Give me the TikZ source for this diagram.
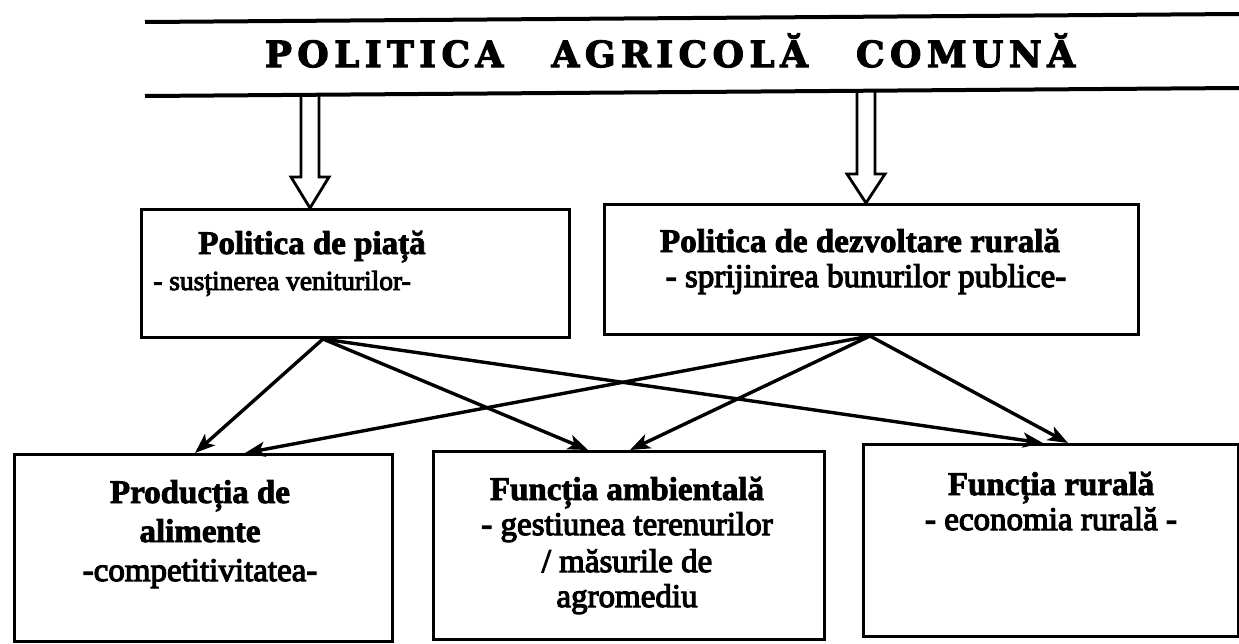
\documentclass[tikz,border=0pt]{standalone}
\usepackage{fontspec}
\setmainfont{Liberation Serif}
\newfontfamily\titlefont[LetterSpace=15,FakeBold=3]{DejaVu Serif Bold}
\newfontfamily\hfont[FakeBold=2.5]{Liberation Serif Bold}
\newfontfamily\sfont[FakeBold=3.5]{Liberation Serif}
\usetikzlibrary{arrows.meta,calc}
\begin{document}
\begin{tikzpicture}[x=1pt,y=-1pt,
  box/.style={draw, line width=3pt, inner sep=0pt, anchor=north west},
  head/.style={font=\hfont\fontsize{33}{36}\selectfont, anchor=base, inner sep=0pt},
  sub/.style={font=\sfont\fontsize{33}{36}\selectfont, anchor=base, inner sep=0pt},
  subsmall/.style={font=\sfont\fontsize{27.5}{32}\selectfont, anchor=base, inner sep=0pt},
  ttl/.style={font=\titlefont\fontsize{36}{40}\selectfont, anchor=base, inner sep=0pt},
  conn/.style={line width=3.4pt, -{Stealth[length=20pt,width=15pt,inset=5pt]}},
  dbl/.style={line width=2.8pt, line join=miter},
  rule/.style={line width=4pt}]
\useasboundingbox (0,0) rectangle (1239,643);
\fill[white] (0,0) rectangle (1239,643);

% title band
\coordinate (tl1) at (145,22);
\coordinate (tr1) at (1239,14);
\coordinate (tl2) at (145,96);
\coordinate (tr2) at (1239,88);
\draw[rule] (tl1) -- (tr1);
\draw[rule] (tl2) -- (tr2);
\node[ttl] (title) at (670,67) {POLITICA\hspace{48pt}AGRICOLĂ\hspace{48pt}COMUNĂ};

% middle boxes
\node[box, minimum width=428pt, minimum height=128pt] (ml) at (140,208) {};
\node[box, minimum width=534pt, minimum height=130pt] (mr) at (603,203) {};
\node[head] (ml1) at (312,254) {Politica de piață};
\node[subsmall] (ml2) at (282,290) {- susținerea veniturilor-};
\node[head] (mr1) at (860,252) {Politica de dezvoltare rurală};
\node[sub]  (mr2) at (866,287) {- sprijinirea bunurilor publice-};

% bottom boxes
\node[box, minimum width=378pt, minimum height=187pt] (b1) at (13,453) {};
\node[box, minimum width=391pt, minimum height=188pt] (b2) at (432,450) {};
\node[box, minimum width=375pt, minimum height=192pt] (b3) at (862,443) {};
\node[head] (b1a) at (200,503) {Producția de};
\node[head] (b1b) at (200,542) {alimente};
\node[sub]  (b1c) at (200,581) {-competitivitatea-};
\node[head] (b2a) at (627,500) {Funcția ambientală};
\node[sub]  (b2b) at (627,535) {- gestiunea terenurilor};
\node[sub]  (b2c) at (627,572) {/ măsurile de};
\node[sub]  (b2d) at (627,607) {agromediu};
\node[head] (b3a) at (1051,495) {Funcția rurală};
\node[sub]  (b3b) at (1051,530) {- economia rurală -};

% hollow double arrows from the title band
\coordinate (a1) at ($(ml.north west)+(170,0)$);
\coordinate (a2) at ($(mr.north west)+(263,0)$);
\draw[dbl] ($(a1)+(-9,-112)$) -- ($(a1)+(-9,-31)$) -- ($(a1)+(-19,-31)$) -- (a1)
  -- ($(a1)+(19,-31)$) -- ($(a1)+(9,-31)$) -- ($(a1)+(9,-112)$);
\draw[dbl] ($(a2)+(-9,-113)$) -- ($(a2)+(-9,-29)$) -- ($(a2)+(-19,-29)$) -- (a2)
  -- ($(a2)+(19,-29)$) -- ($(a2)+(9,-29)$) -- ($(a2)+(9,-113)$);

% connectors
\coordinate (s1) at ($(ml.south west)+(183,0)$);
\coordinate (s2) at ($(mr.south west)+(267,0)$);
\draw[conn] (s1) -- ($(b1.north west)+(182,0)$);
\draw[conn] (s1) -- ($(b2.north west)+(156,0)$);
\draw[conn] (s1) -- ($(b3.north west)+(181,0)$);
\draw[conn] (s2) -- ($(b1.north west)+(232,0)$);
\draw[conn] (s2) -- ($(b2.north west)+(198,0)$);
\draw[conn] (s2) -- ($(b3.north west)+(206,0)$);
\end{tikzpicture}
\end{document}
